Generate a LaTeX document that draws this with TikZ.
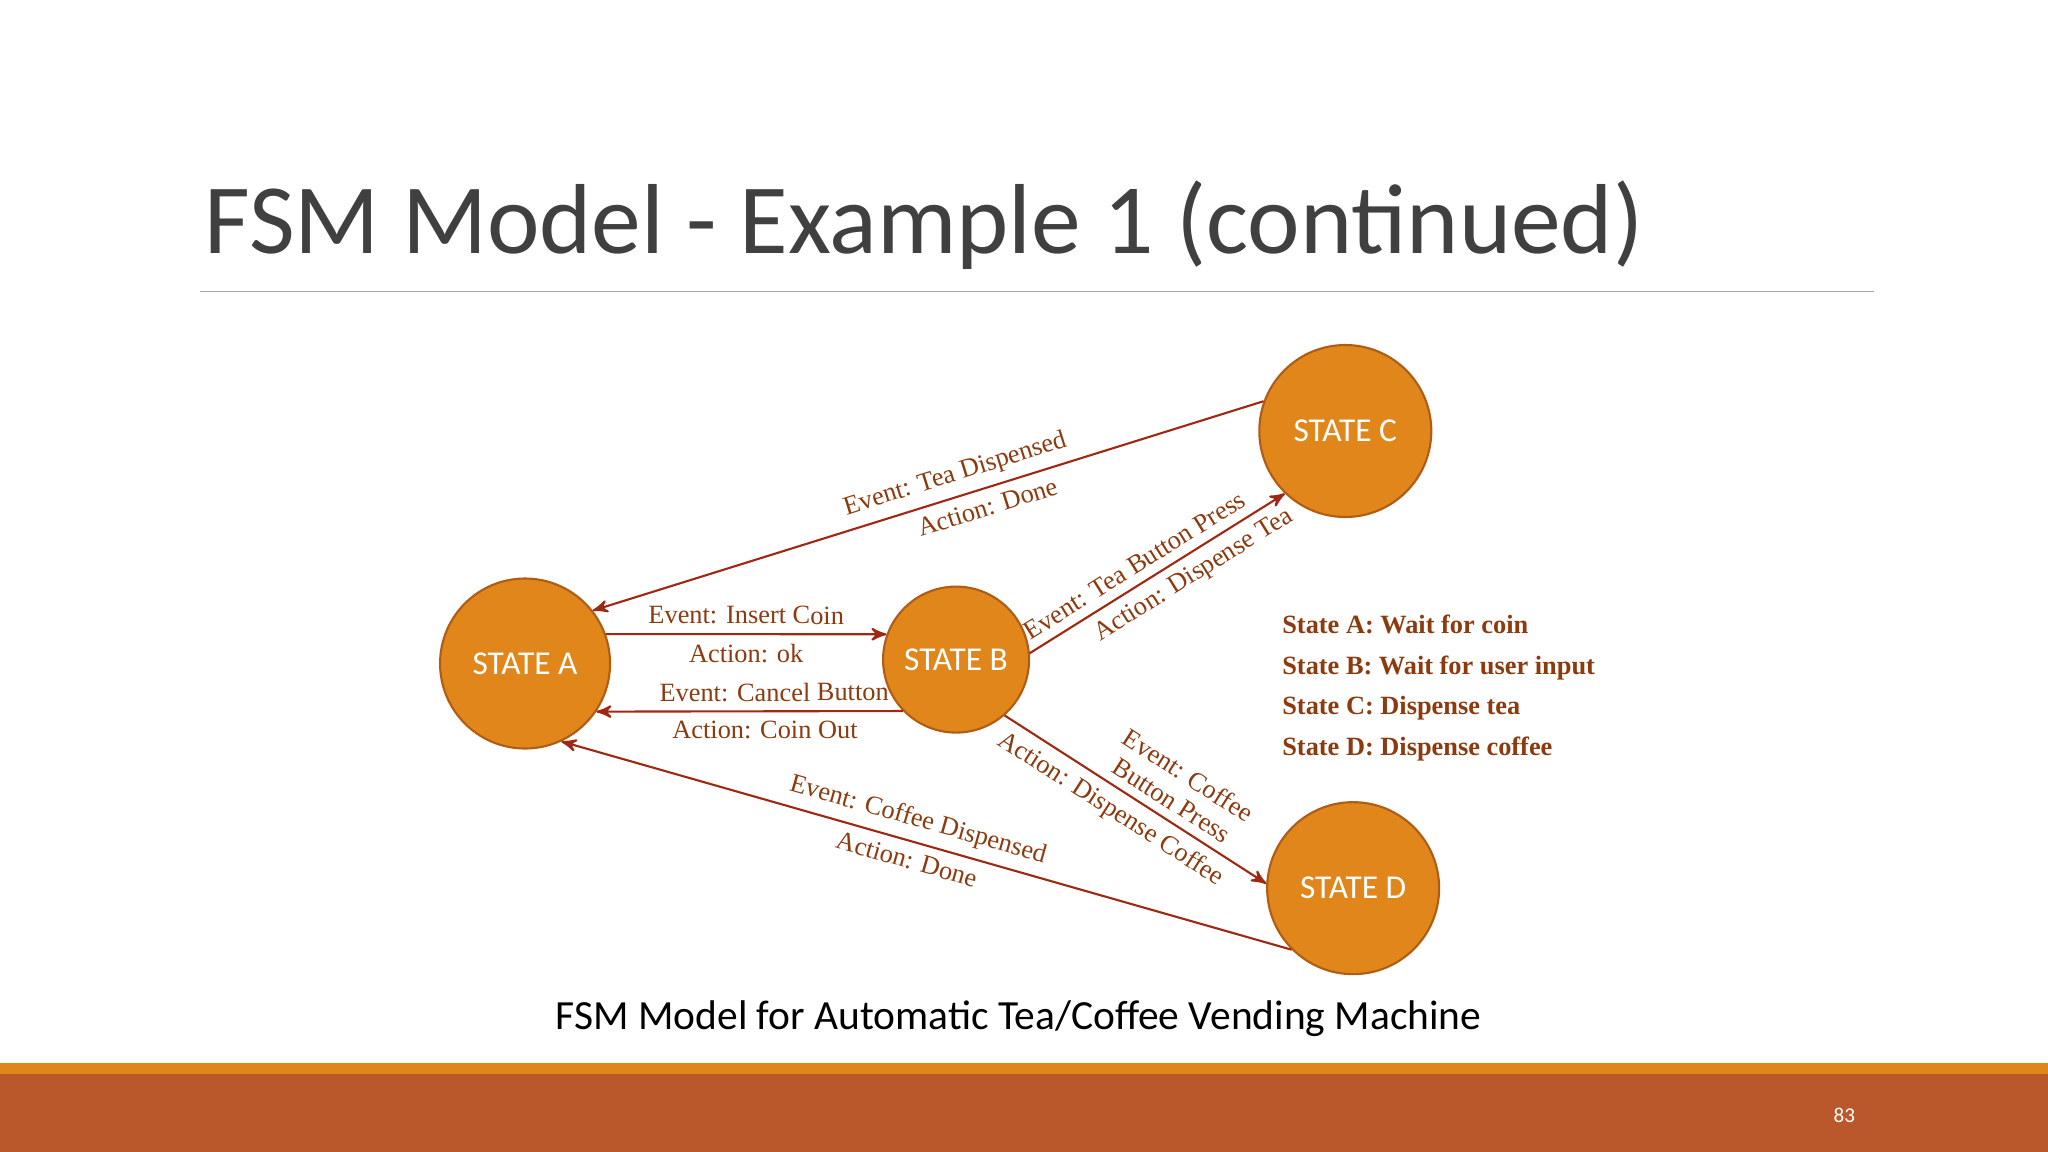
\documentclass[tikz,border=0pt]{standalone}
\usepackage{fontspec}
\setmainfont{Carlito}
\newfontfamily\lblfont{Liberation Serif}
\usetikzlibrary{arrows}
\definecolor{stfill}{RGB}{224,134,26}
\definecolor{stedge}{RGB}{176,92,20}
\definecolor{wire}{RGB}{158,40,18}
\definecolor{lbl}{RGB}{140,58,14}
\definecolor{barred}{RGB}{186,88,44}
\tikzstyle{state} = [circle, draw=stedge, fill=stfill, text=white, font=\fontsize{9.5pt}{10pt}\selectfont, inner sep=0pt]
\tikzstyle{elabel} = [sloped, text=lbl, font=\lblfont\fontsize{7.5pt}{8.5pt}\selectfont, inner sep=2.5pt, align=center]

\begin{document}
\begin{tikzpicture}[x=0.01306cm,y=-0.01306cm,->,>=stealth',semithick]
  \useasboundingbox (0,0) rectangle (1568,882);

  % title and bars
  \node[anchor=west, text={rgb,255:red,64;green,64;blue,64}, font=\fontsize{28.3pt}{30pt}\selectfont] (title) at (147,172) {FSM Model - Example 1 (continued)};
  \draw[-, gray!70, thin] (153,223) -- (1435,223);
  \fill[stfill] (0,814) rectangle (1568,822);
  \fill[barred] (0,822) rectangle (1568,882);
  \node[text=white, font=\fontsize{6pt}{7pt}\selectfont] (page) at (1412,854) {83};

  % states
  \node[state, minimum size=1.70cm] (A) at (402,508) {STATE A};
  \node[state, minimum size=1.46cm] (B) at (732,505) {STATE B};
  \node[state, minimum size=1.72cm] (C) at (1030,330) {STATE C};
  \node[state, minimum size=1.72cm] (D) at (1036,680) {STATE D};

  % transitions
  \draw[wire] (C.160) -- node[elabel, above, pos=0.45] {Event: Tea Dispensed} node[elabel, below, pos=0.42] {Action: Done} (A.38);
  \draw[wire] (A.20) -- node[elabel, above] {Event: Insert Coin} node[elabel, below] {Action: ok} (B.160);
  \draw[wire] (B.224) -- node[elabel, above, pos=0.42] {Event: Cancel Button} node[elabel, below, pos=0.45] {Action: Coin Out} (A.326);
  \draw[wire] (B.5) -- node[elabel, above, pos=0.45] {Event: Tea Button Press} node[elabel, below, pos=0.6] {Action: Dispense Tea} (C.226);
  \draw[wire] (B.311) -- node[elabel, above, pos=0.6] {Event: Coffee\\Button Press} node[elabel, below, pos=0.45] {Action: Dispense Coffee} (D.177);
  \draw[wire] (D.225) -- node[elabel, above, pos=0.52] {Event: Coffee Dispensed} node[elabel, below, pos=0.52] {Action: Done} (A.295);

  % legend
  \node[anchor=north west, text=lbl, align=left, font=\lblfont\bfseries\fontsize{7.5pt}{11.6pt}\selectfont] (legend) at (972,461)
    {State A: Wait for coin\\State B: Wait for user input\\State C: Dispense tea\\State D: Dispense coffee};

  % caption
  \node[font=\fontsize{11.8pt}{13pt}\selectfont] (caption) at (780,780) {FSM Model for Automatic Tea/Coffee Vending Machine};
\end{tikzpicture}
\end{document}
